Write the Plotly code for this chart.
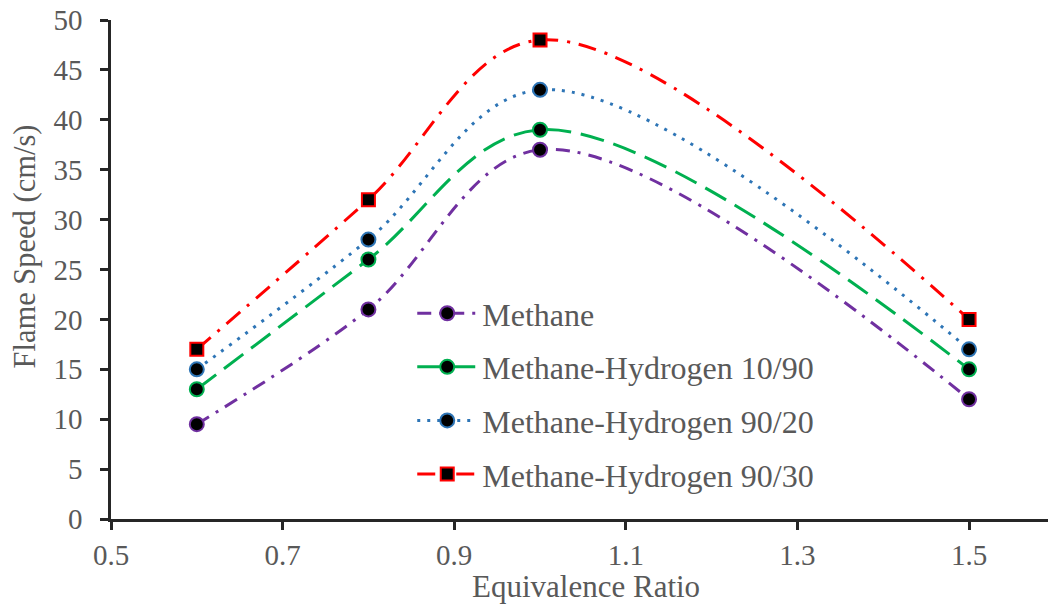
import plotly.graph_objects as go

x_vals = [0.6, 0.8, 1.0, 1.5]
methane = [9.5, 21, 37, 12]
mh_10_90 = [13, 26, 39, 15]
mh_90_20 = [15, 28, 43, 17]
mh_90_30 = [17, 32, 48, 20]
names = ["Methane", "Methane-Hydrogen 10/90", "Methane-Hydrogen 90/20", "Methane-Hydrogen 90/30"]
x_ticks = [0.5, 0.7, 0.9, 1.1, 1.3, 1.5]
colors = ["#7030A0", "#00B050", "#2E75B6", "#FF0000"]
dashes = ["14px,8px,3px,8px", "24px,10px", "3px,7px", "18px,9px,3px,9px"]
symbols = ["circle", "circle", "circle", "square"]
series = [methane, mh_10_90, mh_90_20, mh_90_30]

fig = go.Figure()
for i, (y, n, c, d, s) in enumerate(zip(series, names, colors, dashes, symbols)):
    fig.add_trace(go.Scatter(
        x=x_vals, y=y, name=n, mode="lines+markers", legendgroup=f"g{i}",
        line=dict(color=c, width=3, dash=d, shape="spline", smoothing=1.0),
        marker=dict(symbol=s, size=14 if s == "circle" else 13, color="black",
                    line=dict(color=c, width=2)),
    ))

font_family = "Liberation Serif, Times New Roman, serif"
fig.update_layout(
    width=1050, height=606,
    margin=dict(l=111, r=2, t=20, b=87),
    plot_bgcolor="white", paper_bgcolor="white",
    font=dict(family=font_family, color="#595959", size=29),
    legend=dict(x=0.3215, y=0.467, xanchor="left", yanchor="top",
                font=dict(size=32, color="#595959"), bgcolor="rgba(0,0,0,0)",
                tracegroupgap=9, itemwidth=60),
    showlegend=True,
    annotations=[
        dict(text="Equivalence Ratio", xref="paper", yref="paper", x=0.507, y=-0.1343,
             xanchor="center", yanchor="middle", showarrow=False,
             font=dict(size=31, color="#595959")),
        dict(text="Flame Speed (cm/s)", xref="paper", yref="paper", x=-0.0918, y=0.546,
             xanchor="center", yanchor="middle", showarrow=False, textangle=-90,
             font=dict(size=30.5, color="#595959")),
    ],
)
fig.update_xaxes(
    range=[0.5, 1.592], tickmode="array", tickvals=x_ticks,
    ticktext=[f"{v:.1f}" for v in x_ticks], automargin=False,
    showline=True, linecolor="#262626", linewidth=2.5, ticks="outside", ticklen=8,
    tickwidth=2.5, tickcolor="#262626", showgrid=False, zeroline=False,
    tickfont=dict(size=29, color="#595959"),
)
fig.update_yaxes(
    range=[0, 50], dtick=5, showline=True, linecolor="#262626", linewidth=2.5,
    ticks="outside", ticklen=8, tickwidth=2.5, tickcolor="#262626", automargin=False,
    showgrid=False, zeroline=False, tickfont=dict(size=29, color="#595959"),
    ticklabelstandoff=12,
)
fig.write_html("out.html", config={"displayModeBar": False},
               post_script="document.body.style.margin='0';document.body.style.overflow='hidden';")
